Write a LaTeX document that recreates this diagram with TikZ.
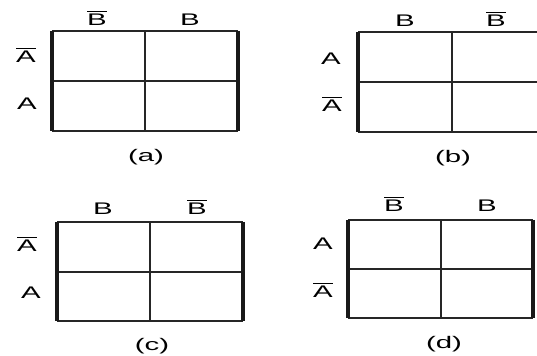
\documentclass[tikz,border=0pt]{standalone}
\usepackage{fontspec}
\setmainfont[FakeStretch=1.75]{Liberation Sans}
\newcommand{\nbar}[1]{$\overline{\mbox{#1}}$}
\begin{document}
\begin{tikzpicture}[x=0.5pt, y=-0.5pt,
  every node/.style={font=\fontsize{8.4}{10}\selectfont, inner sep=0pt, anchor=base},
  grid line/.style={line width=0.8pt, black!85},
  edge line/.style={line width=1.2pt, black!85},
  side line/.style={line width=2pt, black!90}]
  \useasboundingbox (0,0) rectangle (537,356);
  \clip (0,0) rectangle (537,356);
  % Map (a)
  \draw[grid line] (145,31) -- (145,131);
  \draw[grid line] (52,81) -- (238,81);
  \draw[edge line] (52,31) -- (238,31);
  \draw[edge line] (52,131) -- (238,131);
  \draw[side line] (52,31) -- (52,131);
  \draw[side line] (238,31) -- (238,131);
  \node (a-b0) at (97,26) {\nbar{B}};
  \node (a-b1) at (190,26) {B};
  \node (a-a0) at (26,63) {\nbar{A}};
  \node (a-a1) at (27,110) {A};
  \node (a-cap) at (146,162) {(a)};
  % Map (b)
  \draw[grid line] (452,32) -- (452,132);
  \draw[grid line] (358,82) -- (546,82);
  \draw[edge line] (358,32) -- (546,32);
  \draw[edge line] (358,132) -- (546,132);
  \draw[side line] (358,32) -- (358,132);
  \draw[side line] (546,32) -- (546,132);
  \node (b-b1) at (405,27) {B};
  \node (b-b0) at (496,27) {\nbar{B}};
  \node (b-a1) at (331,65) {A};
  \node (b-a0) at (332,112) {\nbar{A}};
  \node (b-cap) at (453,163) {(b)};
  % Map (c)
  \draw[grid line] (150,222) -- (150,321);
  \draw[grid line] (57,272) -- (243,272);
  \draw[edge line] (57,222) -- (243,222);
  \draw[edge line] (57,321) -- (243,321);
  \draw[side line] (57,222) -- (57,321);
  \draw[side line] (243,222) -- (243,321);
  \node (c-b1) at (103,215) {B};
  \node (c-b0) at (197,215) {\nbar{B}};
  \node (c-a0) at (27,252) {\nbar{A}};
  \node (c-a1) at (31,299) {A};
  \node (c-cap) at (152,351) {(c)};
  % Map (d)
  \draw[grid line] (441,220) -- (441,318);
  \draw[grid line] (348,269) -- (533,269);
  \draw[edge line] (348,220) -- (533,220);
  \draw[edge line] (348,318) -- (533,318);
  \draw[side line] (348,220) -- (348,318);
  \draw[side line] (533,220) -- (533,318);
  \node (d-b0) at (394,212) {\nbar{B}};
  \node (d-b1) at (487,212) {B};
  \node (d-a1) at (323,250) {A};
  \node (d-a0) at (323,298) {\nbar{A}};
  \node (d-cap) at (444,349) {(d)};
\end{tikzpicture}
\end{document}
